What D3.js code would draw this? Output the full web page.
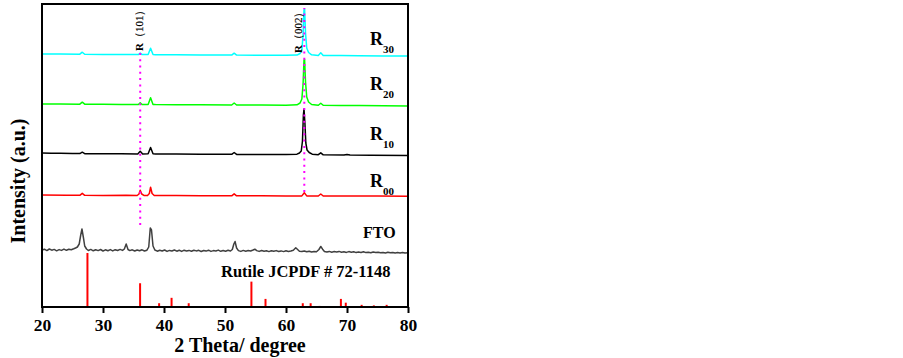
<!DOCTYPE html>
<html>
<head>
<meta charset="utf-8">
<script src="https://cdn.jsdelivr.net/npm/d3@7"></script>
<style>
  body { margin: 0; background: #fff; }
  svg { display: block; }
  text { font-family: "Liberation Serif", "Times New Roman", serif; font-weight: bold; }
</style>
</head>
<body>
<svg id="chart" width="903" height="358"></svg>
<script>
/* globals d3 */

// Patterns, top to bottom. Points are [2theta, counts above the pattern's offset]
const sampleNames = ['R30', 'R20', 'R10', 'R00', 'FTO'];
const sampleColors = ['#00ffff', '#00ff00', '#000000', '#ff0000', '#404040'];
const sampleOffsets = [2530, 2030, 1540, 1120, 570];

const r30Points = [
  [20, 0], [23, 0], [26.2, -2], [26.6, 18], [27.0, -3], [30, -4], [33, -5], [35.8, -6],
  [36.1, 10], [36.4, -6], [37.4, -4], [37.8, 58], [38.2, -4], [38.6, -7], [42, -8],
  [46, -9], [51.1, -11], [51.5, 8], [51.9, -11], [56, -12], [60, -13], [61.8, -11],
  [62.3, 5], [62.6, 40], [62.8, 190], [62.95, 440], [63.05, 450], [63.2, 210], [63.4, 60],
  [63.7, 15], [64.2, -8], [65.3, -14], [65.7, 12], [66.1, -14], [69, -16], [72, -17],
  [76, -19], [80, -20]
];
const r20Points = [
  [20, 0], [23, -1], [26.2, -2], [26.6, 18], [27.0, -2], [30, -3], [33, -4], [35.8, -5],
  [36.1, 12], [36.4, -5], [37.4, -4], [37.8, 62], [38.2, -4], [38.6, -6], [42, -7],
  [46, -8], [51.1, -10], [51.5, 10], [51.9, -10], [56, -11], [60, -12], [61.8, -8],
  [62.3, 10], [62.6, 50], [62.8, 200], [62.95, 440], [63.05, 445], [63.2, 220], [63.4, 70],
  [63.7, 20], [64.2, -5], [65.3, -13], [65.7, 8], [66.1, -13], [69, -15], [72, -16],
  [76, -18], [80, -20]
];
const r10Points = [
  [20, 0], [21.5, -3], [23, -2], [25, -5], [26.2, -6], [26.6, 8], [27.0, -7], [30, -8],
  [33, -8], [35.7, -9], [36.1, 18], [36.5, -9], [37.4, -8], [37.8, 55], [38.2, -8],
  [38.6, -10], [42, -11], [46, -12], [51.1, -13], [51.5, 5], [51.9, -14], [56, -15],
  [60, -16], [61.8, -12], [62.2, 0], [62.5, 20], [62.7, 120], [62.85, 380], [62.95, 440],
  [63.1, 300], [63.25, 100], [63.45, 30], [63.8, 5], [64.3, -12], [65.3, -17], [65.7, 2],
  [66.1, -18], [69.5, -20], [70, -14], [70.5, -20], [74, -22], [80, -25]
];
const r00Points = [
  [20, 0], [24, -2], [26.2, -3], [26.6, 17], [27.0, -3], [30, -4], [33.8, -3], [35.6, -5],
  [35.9, 10], [36.1, 48], [36.35, 10], [36.7, -4], [37.3, -4], [37.6, 15], [37.8, 78],
  [38.05, 15], [38.4, -5], [42, -6], [46, -7], [51.1, -8], [51.5, 12], [51.9, -8], [56, -8],
  [60, -9], [62.6, -9], [63.0, 22], [63.4, -9], [65.3, -10], [65.7, 10], [66.1, -10],
  [70, -10], [75, -11], [80, -12]
];
const ftoPoints = [
  [20, 0], [20.4, 8], [20.8, -6], [21.2, 10], [21.6, -2], [22.0, 6], [22.4, -8], [22.8, 4],
  [23.2, -4], [23.6, 9], [24.0, -3], [24.4, 7], [24.8, 2], [25.2, 12], [25.5, 20], [25.8, 30],
  [26.1, 60], [26.35, 150], [26.55, 210], [26.8, 120], [27.0, 40], [27.3, 10], [27.6, -5],
  [28.0, 6], [28.4, -8], [28.8, 3], [29.2, -6], [29.6, 5], [30.0, -10], [30.4, 2], [30.8, -7],
  [31.2, 4], [31.6, -9], [32.0, 3], [32.4, -5], [32.8, 6], [33.2, -4], [33.5, 10], [33.8, 60],
  [34.1, 5], [34.4, -6], [34.8, 2], [35.2, -10], [35.6, 0], [36.0, -8], [36.4, 2], [36.8, -10],
  [37.2, -2], [37.5, 30], [37.75, 220], [37.95, 200], [38.2, 40], [38.5, 0], [38.9, -12],
  [39.3, -2], [39.7, -10], [40.1, 0], [40.5, -14], [40.9, -4], [41.3, -10], [41.7, 0],
  [42.1, -12], [42.5, -3], [42.9, -14], [43.3, -2], [43.7, -10], [44.1, -4], [44.5, -13],
  [44.9, -2], [45.3, -9], [45.7, -3], [46.1, -15], [46.5, -5], [46.9, -11], [47.3, -2],
  [47.7, -14], [48.1, -6], [48.5, -10], [48.9, -1], [49.3, -13], [49.7, -5], [50.1, -12],
  [50.5, -3], [50.9, -10], [51.2, 5], [51.45, 60], [51.65, 85], [51.9, 20], [52.2, -6],
  [52.6, -14], [53.0, -4], [53.4, -12], [53.8, -6], [54.2, -10], [54.6, 0], [54.9, 8],
  [55.2, -6], [55.6, -14], [56.0, -5], [56.4, -12], [56.8, -8], [57.2, -16], [57.6, -7],
  [58.0, -13], [58.4, -6], [58.8, -15], [59.2, -9], [59.6, -16], [60.0, -8], [60.4, -14],
  [60.8, -10], [61.2, -2], [61.6, 22], [61.9, 5], [62.2, -12], [62.6, -16], [63.0, -10],
  [63.4, -18], [63.8, -12], [64.2, -20], [64.6, -14], [65.0, -18], [65.4, 5], [65.7, 35],
  [66.0, 8], [66.3, -14], [66.7, -20], [67.1, -14], [67.5, -22], [67.9, -16], [68.3, -20],
  [68.7, -14], [69.1, -22], [69.5, -18], [69.9, -24], [70.3, -16], [70.7, -22], [71.1, -18],
  [71.5, -26], [71.9, -20], [72.3, -24], [72.7, -18], [73.1, -26], [73.5, -22], [73.9, -28],
  [74.3, -20], [74.7, -26], [75.1, -22], [75.5, -28], [75.9, -24], [76.3, -30], [76.7, -22],
  [77.1, -28], [77.5, -24], [77.9, -30], [78.3, -26], [78.7, -30], [79.1, -24], [79.5, -30],
  [80, -28]
];
const samplePoints = [r30Points, r20Points, r10Points, r00Points, ftoPoints];

// Rutile JCPDF # 72-1148 reference sticks (2theta, relative intensity)
const refAngles = [27.45, 36.08, 39.2, 41.24, 44.05, 54.33, 56.64, 62.75, 64.04, 65.5, 69.0, 69.8, 72.4, 74.4, 76.5];
const refIntensities = [100, 44, 7, 17, 7, 47, 15, 7, 7, 2, 15, 8, 4, 3, 4];

// Dotted guide lines: angle, counts from / to, and label
const guideAngles = [36.1, 63.0];
const guideFrom = [820, 1150];
const guideTo = [2550, 2990];
const guideLabels = ['（101）', '（002）'];

const xTicks = [20, 30, 40, 50, 60, 70, 80];

// layout
const width = 903;
const height = 358;
const plot = { left: 42, right: 408, top: 4, bottom: 307 };
const labelBaselines = [45, 90, 140, 187];
const guideLabelPos = [[143, 51], [302, 53]];

const svg = d3.select('#chart');
svg.append('rect').attr('width', width).attr('height', height).attr('fill', '#fff');

const x = d3.scaleLinear().domain([20, 80]).range([plot.left, plot.right]);
const y = d3.scaleLinear().domain([0, 3030]).range([plot.bottom, plot.top]);
const yRef = d3.scaleLinear().domain([0, 100]).range([plot.bottom, plot.bottom - 54]);

// Reference sticks
svg.append('g').selectAll('line')
  .data(refAngles)
  .enter().append('line')
  .attr('x1', d => x(d)).attr('x2', d => x(d))
  .attr('y1', plot.bottom)
  .attr('y2', (d, i) => yRef(refIntensities[i]))
  .attr('stroke', '#ff0000')
  .attr('stroke-width', 2);

// Patterns
const patterns = svg.append('g');
samplePoints.forEach((pts, i) => {
  const line = d3.line()
    .x(d => x(d[0]))
    .y(d => y(d[1] + sampleOffsets[i]));
  patterns.append('path')
    .attr('d', line(pts))
    .attr('fill', 'none')
    .attr('stroke', sampleColors[i])
    .attr('stroke-width', 1.5)
    .attr('stroke-linejoin', 'round');
});

// Guides
guideAngles.forEach((a, i) => {
  svg.append('line')
    .attr('x1', x(a)).attr('x2', x(a))
    .attr('y1', y(guideFrom[i])).attr('y2', y(guideTo[i]))
    .attr('stroke', '#ff00ff')
    .attr('stroke-width', 2)
    .attr('stroke-dasharray', '2,4.3');
  const t = svg.append('text')
    .attr('transform', `translate(${guideLabelPos[i][0]},${guideLabelPos[i][1]}) rotate(-90)`)
    .attr('font-size', 11)
    .attr('fill', '#000');
  t.append('tspan').text('R');
  t.append('tspan').attr('font-weight', 'normal').attr('stroke', '#000').attr('stroke-width', 0.2).text(guideLabels[i]);
});

// Frame
svg.append('rect')
  .attr('x', plot.left).attr('y', plot.top)
  .attr('width', plot.right - plot.left).attr('height', plot.bottom - plot.top)
  .attr('fill', 'none').attr('stroke', '#000').attr('stroke-width', 2);

// X axis
const axis = svg.append('g')
  .attr('transform', `translate(0,${plot.bottom})`)
  .call(d3.axisBottom(x).tickValues(xTicks).tickSize(6).tickSizeOuter(0).tickFormat(d3.format('d')));
axis.select('.domain').remove();
axis.selectAll('.tick line').attr('stroke-width', 2);
axis.selectAll('.tick text')
  .attr('y', 24).attr('dy', 0)
  .attr('font-size', 17.5)
  .attr('font-family', '"Liberation Serif", serif')
  .attr('font-weight', 'bold')
  .attr('fill', '#000');

// Sample labels
sampleNames.slice(0, 4).forEach((name, i) => {
  const t = svg.append('text')
    .attr('x', 370).attr('y', labelBaselines[i])
    .attr('font-size', 18);
  t.append('tspan').text(name[0]);
  t.append('tspan').attr('font-size', 11).attr('dy', 8).text(name.slice(1));
});
svg.append('text').attr('x', 363).attr('y', 238).attr('font-size', 16).text(sampleNames[4]);
svg.append('text').attr('x', 221).attr('y', 277).attr('font-size', 16.5).text('Rutile JCPDF # 72-1148');

// Axis titles
svg.append('text')
  .attr('x', 240).attr('y', 352)
  .attr('text-anchor', 'middle')
  .attr('font-size', 20)
  .text('2 Theta/ degree');
svg.append('text')
  .attr('transform', 'translate(25,181) rotate(-90)')
  .attr('text-anchor', 'middle')
  .attr('font-size', 20)
  .text('Intensity (a.u.)');
</script>
</body>
</html>
